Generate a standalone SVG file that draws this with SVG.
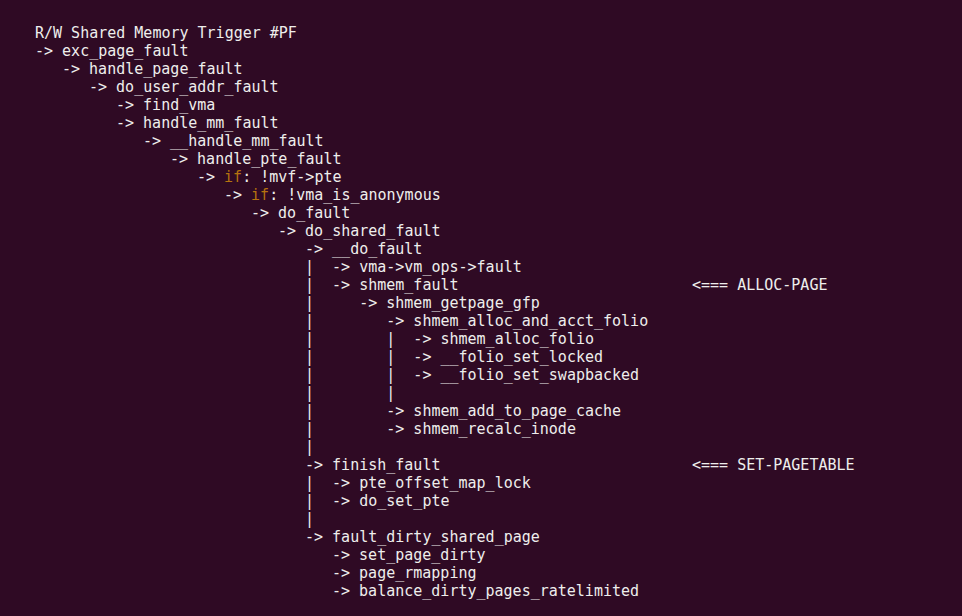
<svg xmlns="http://www.w3.org/2000/svg" width="962" height="616" viewBox="0 0 962 616" xml:space="preserve">
<style>
text { font-family: "DejaVu Sans Mono", "Liberation Mono", monospace; font-size: 15px; fill: #eeeeec; white-space: pre; }
.kw { fill: #b5730f; }
</style>
<rect x="0" y="0" width="962" height="616" fill="#2f0a24"/>
<g id="trace">
<text x="35" y="38">R/W Shared Memory Trigger #PF</text>
<text x="35" y="56">-&gt; exc_page_fault</text>
<text x="62" y="74">-&gt; handle_page_fault</text>
<text x="89" y="92">-&gt; do_user_addr_fault</text>
<text x="116" y="110">-&gt; find_vma</text>
<text x="116" y="128">-&gt; handle_mm_fault</text>
<text x="143" y="146">-&gt; __handle_mm_fault</text>
<text x="170" y="164">-&gt; handle_pte_fault</text>
<text x="197" y="182">-&gt; <tspan class="kw">if</tspan>: !mvf-&gt;pte</text>
<text x="224" y="200">-&gt; <tspan class="kw">if</tspan>: !vma_is_anonymous</text>
<text x="251" y="218">-&gt; do_fault</text>
<text x="278" y="236">-&gt; do_shared_fault</text>
<text x="305" y="254">-&gt; __do_fault</text>
<text x="305" y="272">|  -&gt; vma-&gt;vm_ops-&gt;fault</text>
<text x="305" y="290">|  -&gt; shmem_fault</text>
<text x="692" y="290">&lt;=== ALLOC-PAGE</text>
<text x="305" y="308">|     -&gt; shmem_getpage_gfp</text>
<text x="305" y="326">|        -&gt; shmem_alloc_and_acct_folio</text>
<text x="305" y="344">|        |  -&gt; shmem_alloc_folio</text>
<text x="305" y="362">|        |  -&gt; __folio_set_locked</text>
<text x="305" y="380">|        |  -&gt; __folio_set_swapbacked</text>
<text x="305" y="398">|        |</text>
<text x="305" y="416">|        -&gt; shmem_add_to_page_cache</text>
<text x="305" y="434">|        -&gt; shmem_recalc_inode</text>
<text x="305" y="452">|</text>
<text x="305" y="470">-&gt; finish_fault</text>
<text x="692" y="470">&lt;=== SET-PAGETABLE</text>
<text x="305" y="488">|  -&gt; pte_offset_map_lock</text>
<text x="305" y="506">|  -&gt; do_set_pte</text>
<text x="305" y="524">|</text>
<text x="305" y="542">-&gt; fault_dirty_shared_page</text>
<text x="332" y="560">-&gt; set_page_dirty</text>
<text x="332" y="578">-&gt; page_rmapping</text>
<text x="332" y="596">-&gt; balance_dirty_pages_ratelimited</text>
</g>
</svg>
